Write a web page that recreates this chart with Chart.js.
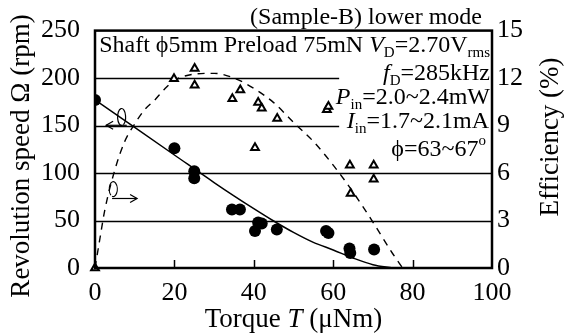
<!DOCTYPE html>
<html><head><meta charset="utf-8">
<script src="https://cdn.jsdelivr.net/npm/chart.js@4/dist/chart.umd.min.js"></script>
<style>html,body{margin:0;padding:0;background:#fff}</style>
</head><body>
<canvas id="c" width="567" height="333"></canvas>
<script>
// ---- data ----
const speedT   = [0, 20, 25, 25, 34.5, 36.5, 40.3, 41.1, 42, 45.8, 58.2, 58.8, 64.1, 64.3, 70.3];
const speedRpm = [177, 126, 102, 94.5, 61.6, 61.6, 39, 47.9, 46.8, 40.5, 39, 36.9, 20.5, 15.8, 19.4];
const effT     = [0, 19.9, 25.1, 25.1, 34.6, 36.6, 40.3, 41.1, 42, 45.9, 58.4, 58.8, 64.2, 64.4, 70.2, 70.2];
const effPct   = [0, 11.95, 12.6, 11.55, 10.7, 11.25, 7.6, 10.45, 10.1, 9.45, 10.0, 10.2, 6.5, 4.7, 6.5, 5.6];
const speedFitT   = [0, 10, 20, 30, 35, 40, 45, 50, 55, 60, 65, 70, 75];
const speedFitRpm = [177, 148, 119, 90, 76, 62.5, 49.5, 37.5, 27, 19, 10.5, 3.5, 0];
const effFitT   = [0, 1, 2.5, 5, 7.5, 10, 12.5, 15, 17.5, 20, 25, 30, 35, 40, 45, 50, 55, 60, 65, 70, 75, 77.5];
const effFitPct = [0, 1.5, 3.7, 6.2, 8.0, 9.1, 10.0, 10.6, 11.3, 11.85, 12.25, 12.3, 12.0, 11.35, 10.45, 9.2, 8.0, 6.5, 4.8, 2.9, 0.9, 0];
const xTicks = [0, 20, 40, 60, 80, 100];
const speedTicks = [0, 50, 100, 150, 200, 250];
const effTicks = [0, 3, 6, 9, 12, 15];

const FONT = "'Liberation Serif', 'Times New Roman', serif";
const pts = (xs, ys) => xs.map((x, i) => ({x: x, y: ys[i]}));

function richText(ctx, segs, x, y, align) {
  let total = 0;
  segs.forEach(s => {
    ctx.font = (s.it ? 'italic ' : '') + (s.sub || s.sup ? 15 : 24) + 'px ' + FONT;
    s.w = ctx.measureText(s.t).width; total += s.w;
  });
  let cx = align === 'right' ? x - total : x;
  ctx.textBaseline = 'alphabetic'; ctx.textAlign = 'left'; ctx.fillStyle = '#000';
  segs.forEach(s => {
    ctx.font = (s.it ? 'italic ' : '') + (s.sub || s.sup ? 15 : 24) + 'px ' + FONT;
    ctx.fillText(s.t, cx, y + (s.sub ? 5 : 0) + (s.sup ? -11 : 0));
    cx += s.w;
  });
}

const deco = {
  id: 'deco',
  beforeDatasetsDraw(chart) {
    const ctx = chart.ctx, a = chart.chartArea, xs = chart.scales.x, ys = chart.scales.y;
    ctx.save();
    ctx.strokeStyle = '#000'; ctx.lineWidth = 1.5;
    speedTicks.slice(1, -1).forEach(v => {
      const y = Math.round(ys.getPixelForValue(v)) + 0.5;
      const xe = v >= 150 ? xs.getPixelForValue(61.5) : a.right;
      ctx.beginPath(); ctx.moveTo(a.left, y); ctx.lineTo(xe, y); ctx.stroke();
    });
    xTicks.slice(1, -1).forEach(v => {
      const x = Math.round(xs.getPixelForValue(v)) + 0.5;
      ctx.beginPath(); ctx.moveTo(x, a.bottom); ctx.lineTo(x, a.bottom - 8); ctx.stroke();
    });
    ctx.restore();
  },
  afterDatasetsDraw(chart) {
    const ctx = chart.ctx, a = chart.chartArea, xs = chart.scales.x, ys = chart.scales.y;
    const X = v => xs.getPixelForValue(v), Y = v => ys.getPixelForValue(v);
    ctx.save();
    ctx.strokeStyle = '#000'; ctx.lineWidth = 2.5;
    ctx.strokeRect(a.left, a.top, a.right - a.left, a.bottom - a.top);
    // loop arrow for speed curve (points left)
    ctx.lineWidth = 1.2;
    let y1 = Y(150.3);
    ctx.beginPath(); ctx.moveTo(X(8.0), y1); ctx.lineTo(X(2.8), y1); ctx.stroke();
    ctx.beginPath(); ctx.moveTo(X(2.8) + 7, y1 - 4); ctx.lineTo(X(2.8), y1); ctx.lineTo(X(2.8) + 7, y1 + 4); ctx.stroke();
    ctx.beginPath(); ctx.ellipse(X(6.7), Y(159), 4, 8.5, 0, 0.45 * Math.PI, 2.35 * Math.PI); ctx.stroke();
    // loop arrow for efficiency curve (points right)
    let y2 = Y(73.2);
    ctx.beginPath(); ctx.moveTo(X(4.3), y2); ctx.lineTo(X(10.6), y2); ctx.stroke();
    ctx.beginPath(); ctx.moveTo(X(10.6) - 7, y2 - 4); ctx.lineTo(X(10.6), y2); ctx.lineTo(X(10.6) - 7, y2 + 4); ctx.stroke();
    ctx.beginPath(); ctx.ellipse(X(4.6), Y(83), 4, 7.5, 0, 0.7 * Math.PI, 2.6 * Math.PI); ctx.stroke();
    ctx.restore();

    ctx.save();
    richText(ctx, [{t: '(Sample-B) lower mode'}], 482, 24, 'right');
    richText(ctx, [{t: 'Shaft \u03D55mm Preload 75mN '}, {t: 'V', it: 1}, {t: 'D', sub: 1}, {t: '=2.70V'}, {t: 'rms', sub: 1}], 490, 52, 'right');
    richText(ctx, [{t: 'f', it: 1}, {t: 'D', sub: 1}, {t: '=285kHz'}], 490, 80, 'right');
    richText(ctx, [{t: 'P', it: 1}, {t: 'in', sub: 1}, {t: '=2.0~2.4mW'}], 490, 104, 'right');
    richText(ctx, [{t: 'I', it: 1}, {t: 'in', sub: 1}, {t: '=1.7~2.1mA'}], 489, 128, 'right');
    richText(ctx, [{t: '\u03D5=63~67'}, {t: 'o', sup: 1}], 486, 156, 'right');
    // axis titles
    ctx.fillStyle = '#000'; ctx.textAlign = 'center'; ctx.textBaseline = 'middle';
    ctx.font = '27px ' + FONT;
    ctx.save(); ctx.translate(22, 156); ctx.rotate(-Math.PI / 2);
    ctx.fillText('Revolution speed \u03A9 (rpm)', 0, 0); ctx.restore();
    ctx.save(); ctx.translate(551, 137); ctx.rotate(-Math.PI / 2);
    ctx.fillText('Efficiency (%)', 0, 0); ctx.restore();
    // x title with italic T
    const p1 = 'Torque ', p2 = 'T', p3 = ' (\u03BCNm)';
    ctx.font = '27px ' + FONT; const w1 = ctx.measureText(p1).width, w3 = ctx.measureText(p3).width;
    ctx.font = 'italic 27px ' + FONT; const w2 = ctx.measureText(p2).width;
    let sx = (a.left + a.right) / 2 - (w1 + w2 + w3) / 2;
    ctx.textAlign = 'left'; ctx.textBaseline = 'alphabetic';
    ctx.font = '27px ' + FONT; ctx.fillText(p1, sx, 327);
    ctx.font = 'italic 27px ' + FONT; ctx.fillText(p2, sx + w1, 327);
    ctx.font = '27px ' + FONT; ctx.fillText(p3, sx + w1 + w2, 327);
    ctx.restore();
  }
};

const tickFont = {family: FONT, size: 26};
new Chart(document.getElementById('c'), {
  type: 'line',
  data: {
    datasets: [
      {data: pts(speedT, speedRpm), showLine: false, pointStyle: 'circle', pointRadius: 6,
       backgroundColor: '#000', borderColor: '#000', borderWidth: 0, yAxisID: 'y'},
      {data: pts(effT, effPct), showLine: false, pointStyle: 'triangle', pointRadius: 4.5,
       backgroundColor: '#fff', borderColor: '#000', borderWidth: 2, yAxisID: 'y2', clip: false},
      {data: pts(speedFitT, speedFitRpm), pointRadius: 0, borderColor: '#000', borderWidth: 1.5,
       cubicInterpolationMode: 'monotone', yAxisID: 'y'},
      {data: pts(effFitT, effFitPct), pointRadius: 0, borderColor: '#000', borderWidth: 1.4,
       borderDash: [7, 6], cubicInterpolationMode: 'monotone', yAxisID: 'y2'}
    ]
  },
  options: {
    responsive: false, animation: false, devicePixelRatio: 1,
    layout: {padding: {top: 30, left: 0, right: 0, bottom: 0}},
    plugins: {legend: {display: false}, tooltip: {enabled: false}},
    scales: {
      x: {type: 'linear', min: 0, max: 100, grid: {display: false, drawTicks: false}, border: {display: false},
          afterBuildTicks: s => { s.ticks = xTicks.map(v => ({value: v})); },
          ticks: {font: tickFont, color: '#000', padding: 10, maxRotation: 0},
          afterFit: s => { s.height = 65; }},
      y: {min: 0, max: 250, grid: {display: false, drawTicks: false}, border: {display: false},
          afterBuildTicks: s => { s.ticks = speedTicks.map(v => ({value: v})); },
          ticks: {font: tickFont, color: '#000', padding: 15},
          afterFit: s => { s.width = 95; }},
      y2: {position: 'right', min: 0, max: 15, grid: {display: false, drawTicks: false}, border: {display: false},
          afterBuildTicks: s => { s.ticks = effTicks.map(v => ({value: v})); },
          ticks: {font: tickFont, color: '#000', padding: 5},
          afterFit: s => { s.width = 75; }}
    }
  },
  plugins: [deco]
});
</script>
</body></html>
